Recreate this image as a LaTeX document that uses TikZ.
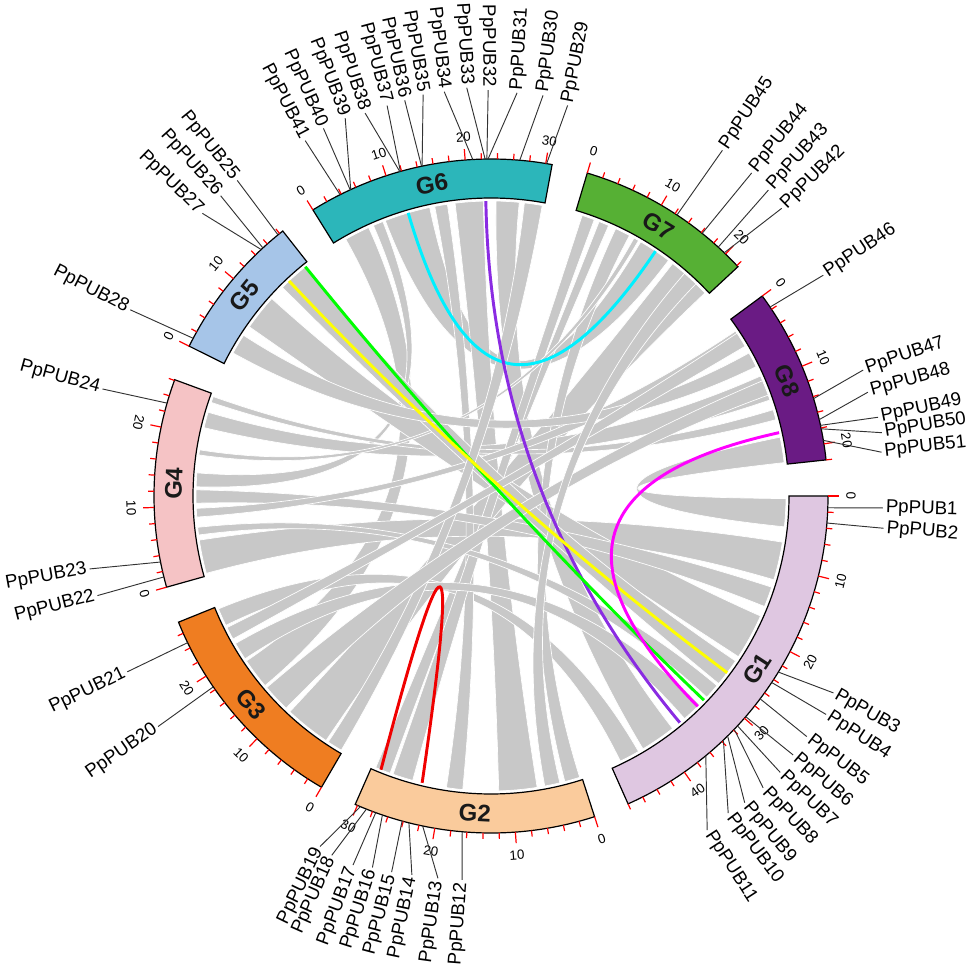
\documentclass[tikz,border=0pt]{standalone}
\usepackage{fontspec}
\setmainfont{Liberation Sans}
\usetikzlibrary{calc}
\definecolor{linkgray}{RGB}{200,200,200}
\definecolor{cA}{RGB}{223,199,225}
\definecolor{cB}{RGB}{250,203,156}
\definecolor{cC}{RGB}{239,125,33}
\definecolor{cD}{RGB}{245,195,197}
\definecolor{cE}{RGB}{166,197,232}
\definecolor{cF}{RGB}{44,182,186}
\definecolor{cG}{RGB}{86,176,52}
\definecolor{cH}{RGB}{106,27,132}
\definecolor{lcyan}{RGB}{0,240,255}
\definecolor{lpurple}{RGB}{138,43,226}
\definecolor{lgreen}{RGB}{0,255,0}
\definecolor{lyellow}{RGB}{255,255,0}
\definecolor{lmag}{RGB}{255,0,255}
\definecolor{lred}{RGB}{240,0,0}
\tikzset{
  ribbon/.style={fill=linkgray, draw=white, line width=0.5pt},
  tickmark/.style={draw=red, line width=0.9pt},
  ticklab/.style={font=\fontsize{10}{10}\selectfont, inner sep=0pt},
  glab/.style={font=\fontsize{14}{14}\selectfont, inner sep=1pt},
  gline/.style={draw=black!80, line width=0.7pt},
  chrlab/.style={font=\fontsize{18}{18}\selectfont\bfseries, text=black!90},
  clinkstyle/.style={line width=2.2pt}
}
\newcommand\chromo[6]{%
  \pgfmathsetmacro\cs{-(#2)}%
  \pgfmathsetmacro\ce{-(#2+#3*1.375)}%
  \filldraw[fill=#4, draw=black, line width=0.9pt] (\cs:298) arc[start angle=\cs, end angle=\ce, radius=298] -- (\ce:337) arc[start angle=\ce, end angle=\cs, radius=337] -- cycle;
  \foreach \p in {0,2,...,#5}{%
    \pgfmathsetmacro\ta{-(#2+\p*1.375)}%
    \pgfmathtruncatemacro\ismaj{mod(\p,10)==0}%
    \ifnum\ismaj=1
      \draw[tickmark] (\ta:337) -- (\ta:348);
      \pgfmathsetmacro\tr{\ta+#6}%
      \node[ticklab, rotate=\tr] (t#1-\p) at (\ta:360) {\p};
    \else
      \draw[tickmark] (\ta:337) -- (\ta:343);
    \fi
  }%
  \pgfmathsetmacro\cm{-(#2+#3*1.375/2)}%
  \pgfmathtruncatemacro\isup{sin(\cm)>0}%
  \ifnum\isup=1 \pgfmathsetmacro\cr{\cm-90}\else\pgfmathsetmacro\cr{\cm+90}\fi
  \node[chrlab, rotate=\cr] (#1) at (\cm:317.5) {#1};
}
\newcommand\gene[5]{%
  \draw[gline] (#2:337) -- (#3:#4);
  \pgfmathsetmacro\gr{#4+1.5}%
  \pgfmathtruncatemacro\isleft{cos(#3)<0}%
  \ifnum\isleft=1
    \pgfmathsetmacro\grot{#3+180}%
    \node[glab, anchor=east, rotate=\grot] (#1) at (#3:\gr) {#5};
  \else
    \node[glab, anchor=west, rotate=#3] (#1) at (#3:\gr) {#5};
  \fi
}
\newcommand\rib[4]{%
  \fill[ribbon] (-#1:295) arc[start angle=-#1, end angle=-#2, radius=295]
    .. controls (-#2:98.3) and (-#3:98.3) .. (-#3:295)
    arc[start angle=-#3, end angle=-#4, radius=295]
    .. controls (-#4:98.3) and (-#1:98.3) .. (-#1:295) -- cycle;
}
\newcommand\clink[3]{%
  \draw[clinkstyle, #3] (-#1:295) .. controls (-#1:98.3) and (-#2:98.3) .. (-#2:295);
}
\begin{document}
\begin{tikzpicture}[x=0.75pt,y=0.75pt]
\useasboundingbox (-491,-481) rectangle (478,496);
% ---- gray links ----
\rib{249}{258}{300.5}{307}
\rib{271}{275.5}{52}{59}
\rib{263}{268.5}{81}{88.5}
\rib{240.5}{245.5}{140}{146}
\rib{246.5}{248.5}{181.8}{184.5}
\rib{291.5}{293.5}{110}{113}
\rib{308}{316.5}{124}{133}
\rib{336}{341}{193.4}{196.5}
\rib{343}{345}{198.5}{199.7}
\rib{348.5}{353.5}{0.5}{6}
\rib{9}{16.5}{164.8}{171.4}
\rib{24}{33}{215}{222}
\rib{60}{64}{154}{157.5}
\rib{72.5}{75.5}{295}{298}
\rib{95.5}{98.7}{259}{261.5}
\rib{105.4}{109.4}{288}{290.5}
\rib{178.6}{181.2}{18}{22}
\rib{175.9}{177.6}{326}{329}
\rib{172.4}{173.9}{40}{43}
\rib{188}{189}{299}{300}
\rib{225}{231}{34}{39.5}
\rib{209}{213}{331}{334}
\rib{146.5}{150}{45}{49}
\rib{120.5}{123.5}{276.5}{280}
\rib{134}{139.5}{337}{340}
\rib{151}{153.5}{326.5}{329.5}
\rib{76.5}{79.5}{311}{314}
% ---- coloured links ----
\clink{253.7}{303.9}{lcyan}
\clink{269}{50.2}{lpurple}
\clink{231}{43.8}{lgreen}
\clink{226.8}{36.8}{lyellow}
\clink{347.6}{45.5}{lmag}
\draw[clinkstyle, lred] (-111.9:295) .. controls (-45.2,-25.6) and (-31.5,-30.0) .. (-103.5:295);
% ---- chromosomes ----
\chromo{G1}{0}{48}{cA}{48}{90}
\chromo{G2}{72.1}{30.3}{cB}{30}{90}
\chromo{G3}{120.2}{27.5}{cC}{26}{90}
\chromo{G4}{164.3}{26.1}{cD}{26}{90}
\chromo{G5}{206.4}{18.5}{cE}{18}{-90}
\chromo{G6}{238.1}{30.8}{cF}{30}{-90}
\chromo{G7}{286.6}{22.2}{cG}{22}{-90}
\chromo{G8}{323.6}{22}{cH}{22}{-90}
% ---- gene labels ----
\gene{g1}{-2.0}{-1.75}{392}{PpPUB1}
\gene{g2}{-4.6}{-4.7}{394}{PpPUB2}
\gene{g3}{-31.5}{-29.9}{395}{PpPUB3}
\gene{g4}{-33.6}{-33.1}{400}{PpPUB4}
\gene{g5}{-37.0}{-37.3}{397}{PpPUB5}
\gene{g6}{-40.9}{-40.6}{398}{PpPUB6}
\gene{g7}{-43.0}{-43.7}{400}{PpPUB7}
\gene{g8}{-43.8}{-47.0}{399}{PpPUB8}
\gene{g9}{-45.4}{-50.4}{398}{PpPUB9}
\gene{g10}{-46.4}{-53.2}{396}{PpPUB10}
\gene{g11}{-50.4}{-57.1}{398}{PpPUB11}
\gene{g12}{-94.9}{-94.3}{385}{PpPUB12}
\gene{g13}{-101.7}{-97.9}{386}{PpPUB13}
\gene{g14}{-104.1}{-101.8}{387}{PpPUB14}
\gene{g15}{-105.3}{-104.8}{389}{PpPUB15}
\gene{g16}{-108.8}{-107.7}{390}{PpPUB16}
\gene{g17}{-110.0}{-110.5}{394}{PpPUB17}
\gene{g18}{-111.7}{-113.9}{393}{PpPUB18}
\gene{g19}{-112.8}{-116.0}{390}{PpPUB19}
\gene{g20}{-145.5}{-145.3}{405}{PpPUB20}
\gene{g21}{-154.2}{-154.2}{404}{PpPUB21}
\gene{g22}{-166.1}{-165.8}{406}{PpPUB22}
\gene{g23}{-168.7}{-169.7}{408}{PpPUB23}
\gene{g24}{164.0}{164.6}{403}{PpPUB24}
\gene{g25}{129.2}{128.8}{405}{PpPUB25}
\gene{g26}{132.6}{132.0}{404}{PpPUB26}
\gene{g27}{133.0}{135.6}{404}{PpPUB27}
\gene{g28}{152.1}{152.7}{406}{PpPUB28}
\gene{g29}{80.5}{78.9}{398}{PpPUB29}
\gene{g30}{85.1}{82.6}{404}{PpPUB30}
\gene{g31}{90.5}{86.3}{404}{PpPUB31}
\gene{g32}{90.7}{90.4}{406}{PpPUB32}
\gene{g33}{91.0}{93.4}{409}{PpPUB33}
\gene{g34}{93.1}{96.6}{407}{PpPUB34}
\gene{g35}{101.8}{99.6}{407}{PpPUB35}
\gene{g36}{101.9}{102.3}{405}{PpPUB36}
\gene{g37}{105.6}{104.9}{404}{PpPUB37}
\gene{g38}{105.7}{108.2}{403}{PpPUB38}
\gene{g39}{114.6}{111.1}{405}{PpPUB39}
\gene{g40}{114.7}{114.5}{404}{PpPUB40}
\gene{g41}{116.6}{117.6}{401}{PpPUB41}
\gene{g42}{46.2}{44.7}{409}{PpPUB42}
\gene{g43}{47.6}{47.8}{413}{PpPUB43}
\gene{g44}{51.2}{51.1}{415}{PpPUB44}
\gene{g45}{56.5}{56.2}{416}{PpPUB45}
\gene{g46}{34.1}{33.6}{399}{PpPUB46}
\gene{g47}{16.8}{18.7}{393}{PpPUB47}
\gene{g48}{13.1}{15.4}{391}{PpPUB48}
\gene{g49}{12.1}{11.5}{395}{PpPUB49}
\gene{g50}{11.5}{9.2}{396}{PpPUB50}
\gene{g51}{9.5}{6.4}{393}{PpPUB51}
\end{tikzpicture}
\end{document}
